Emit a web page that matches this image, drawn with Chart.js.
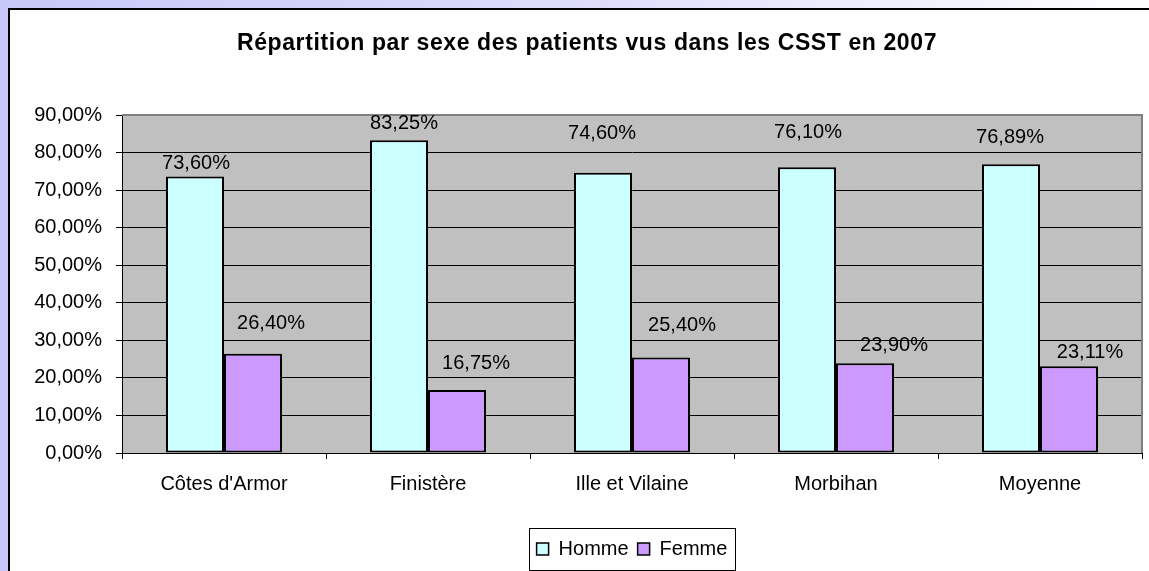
<!DOCTYPE html>
<html><head><meta charset="utf-8">
<script src="https://cdn.jsdelivr.net/npm/chart.js@4.4.0/dist/chart.umd.min.js"></script>
<style>
html,body{margin:0;padding:0;width:1149px;height:571px;overflow:hidden;}
body{background:linear-gradient(to right,#c8c8f8 0%,#dcdcfa 50%,#ffffff 100%);position:relative;}
#frame{position:absolute;left:8px;top:8px;width:1160px;height:580px;background:#fff;border-left:2px solid #000;border-top:2px solid #000;box-sizing:border-box;}
canvas{position:absolute;left:0;top:0;}
</style></head><body>
<div id="frame"></div>
<canvas id="c" width="1149" height="571"></canvas>
<script>
const categories = ["Côtes d'Armor", "Finistère", "Ille et Vilaine", "Morbihan", "Moyenne"];
const seriesNames = ["Homme", "Femme"];
const hommeValues = [73.60, 83.25, 74.60, 76.10, 76.89];
const femmeValues = [26.40, 16.75, 25.40, 23.90, 23.11];
const yTickValues = [0, 10, 20, 30, 40, 50, 60, 70, 80, 90];
const titleText = "Répartition par sexe des patients vus dans les CSST en 2007";

// label placement offsets (style only, relative to the bar top)
const hommeLabelOffsets = [[1, -13], [5, -17], [-1, -39], [1, -35], [-1, -27]];
const femmeLabelOffsets = [[18, -30], [19, -27], [21, -32], [29, -18], [21, -14]];

const FONT = "'Liberation Sans', Arial, sans-serif";
const FS = 20;
Chart.defaults.font.family = FONT;
Chart.defaults.font.size = FS;
Chart.defaults.color = '#000';

function fmt(v) { return v.toFixed(2).replace('.', ',') + '%'; }

const plotBg = {
  id: 'plotBg',
  beforeDraw(chart) {
    const {ctx, chartArea: a} = chart;
    ctx.save();
    ctx.fillStyle = '#c0c0c0';
    ctx.fillRect(a.left, a.top, a.right - a.left, a.bottom - a.top);
    ctx.restore();
  },
  beforeDatasetsDraw(chart) {
    const {ctx, chartArea: a} = chart;
    ctx.save();
    ctx.strokeStyle = '#808080';
    ctx.lineWidth = 2;
    ctx.beginPath();
    ctx.moveTo(a.left, a.top);
    ctx.lineTo(a.right, a.top);
    ctx.lineTo(a.right, a.bottom);
    ctx.stroke();
    ctx.restore();
  }
};

const labelsPlugin = {
  id: 'valueLabels',
  afterDatasetsDraw(chart) {
    const ctx = chart.ctx;
    const offs = [hommeLabelOffsets, femmeLabelOffsets];
    ctx.save();
    ctx.font = FS + 'px ' + FONT;
    ctx.fillStyle = '#000';
    ctx.textAlign = 'center';
    ctx.textBaseline = 'middle';
    chart.data.datasets.forEach((ds, di) => {
      const meta = chart.getDatasetMeta(di);
      meta.data.forEach((bar, i) => {
        const o = offs[di][i];
        ctx.fillText(fmt(ds.data[i]), bar.x + o[0], bar.y + o[1]);
      });
    });
    ctx.restore();
  }
};

const titlePlugin = {
  id: 'customTitle',
  afterDraw(chart) {
    const ctx = chart.ctx;
    ctx.save();
    ctx.letterSpacing = '0.6px';
    ctx.font = 'bold 23px ' + FONT;
    ctx.fillStyle = '#000';
    ctx.textAlign = 'center';
    ctx.textBaseline = 'middle';
    ctx.fillText(titleText, 587, 44);
    ctx.restore();
  }
};

const legendBox = {
  id: 'legendBox',
  afterDraw(chart) {
    const lg = chart.legend;
    if (!lg || !lg.legendHitBoxes.length) return;
    const hb = lg.legendHitBoxes;
    let l = Infinity, r = -Infinity, t = Infinity, b = -Infinity;
    hb.forEach(h => { l = Math.min(l, h.left); r = Math.max(r, h.left + h.width); t = Math.min(t, h.top); b = Math.max(b, h.top + h.height); });
    const ctx = chart.ctx;
    ctx.save();
    ctx.strokeStyle = '#000';
    ctx.lineWidth = 1;
    ctx.strokeRect(Math.round(l - 8) + 0.5, Math.round(t - 11) + 0.5, Math.round(r - l + 15), Math.round(b - t + 22));
    ctx.restore();
  }
};

new Chart(document.getElementById('c'), {
  type: 'bar',
  data: {
    labels: categories,
    datasets: [
      { label: seriesNames[0], data: hommeValues, backgroundColor: '#ccffff', borderColor: '#000', borderWidth: 2, borderSkipped: false },
      { label: seriesNames[1], data: femmeValues, backgroundColor: '#cc99ff', borderColor: '#000', borderWidth: 2, borderSkipped: false }
    ]
  },
  options: {
    responsive: false,
    animation: false,
    events: [],
    layout: { padding: { top: 115, left: 10, right: 7, bottom: 2 } },
    datasets: { bar: { categoryPercentage: 0.5686, barPercentage: 1 } },
    plugins: {
      title: { display: false },
      tooltip: { enabled: false },
      legend: {
        display: true,
        position: 'bottom',
        fullSize: false,
        labels: {
          boxWidth: 12,
          boxHeight: 12,
          padding: 9,
          font: { size: FS },
          color: '#000',
          generateLabels(chart) {
            const items = Chart.defaults.plugins.legend.labels.generateLabels(chart);
            items.forEach(it => { it.lineWidth = 1.5; });
            return items;
          }
        }
      }
    },
    scales: {
      x: {
        grid: { display: true, offset: true, drawOnChartArea: false, drawTicks: true, tickLength: 6, color: '#000', tickColor: '#000' },
        border: { display: true, color: '#000', width: 1 },
        ticks: { padding: 13, maxRotation: 0, autoSkip: false, color: '#000' },
        afterFit(s) { s.height = 77; }
      },
      y: {
        min: 0,
        max: 90,
        afterBuildTicks(s) { s.ticks = yTickValues.map(v => ({ value: v })); },
        grid: {
          display: true,
          drawTicks: true,
          tickLength: 6,
          color: c => (c.tick && c.tick.value === 90) ? '#808080' : '#000',
          tickColor: '#000',
          lineWidth: 1
        },
        border: { display: true, color: '#000', width: 1 },
        ticks: { padding: 14, color: '#000', callback: v => fmt(v) },
        afterFit(s) { s.width = 112; }
      }
    }
  },
  plugins: [plotBg, labelsPlugin, titlePlugin, legendBox]
});
</script>
</body></html>
